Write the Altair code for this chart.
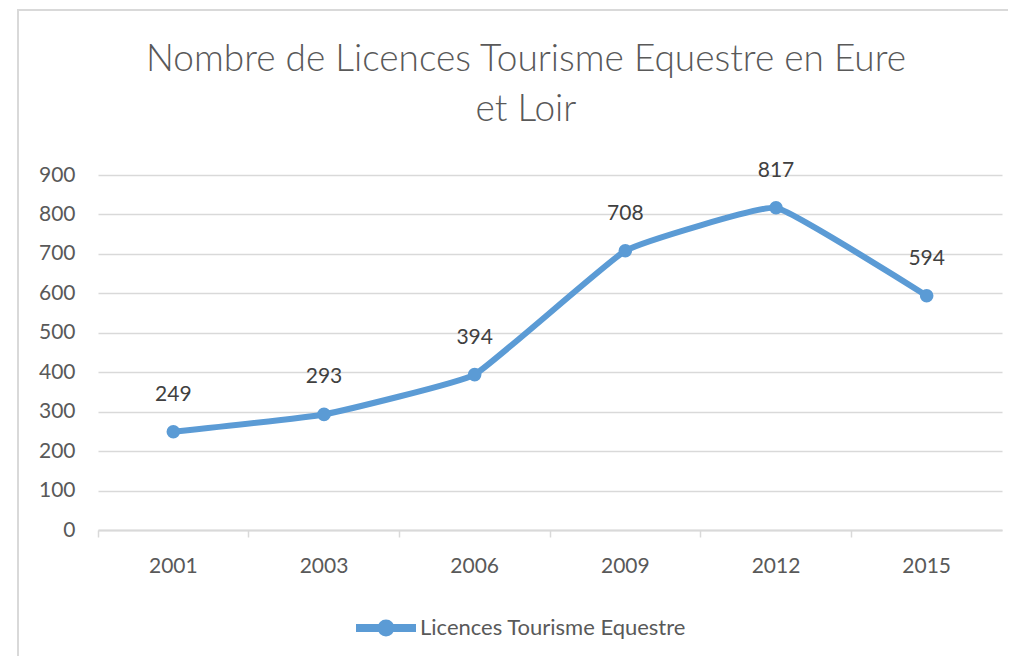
import altair as alt
import pandas as pd

years = ["2001", "2003", "2006", "2009", "2012", "2015"]
values = [249, 293, 394, 708, 817, 594]
series_name = "Licences Tourisme Equestre"
title_lines = ["Nombre de Licences Tourisme Equestre en Eure", "et Loir"]
y_ticks = [0, 100, 200, 300, 400, 500, 600, 700, 800, 900]

df = pd.DataFrame({"year": years, "value": values, "series": series_name})

FONT = "Lato"
TEXT = "#595959"
BLUE = "#5B9BD5"
GRID = "#d9d9d9"

x_enc = alt.X(
    "year:N",
    sort=years,
    bandPosition=0.5,
    scale=alt.Scale(type="band", paddingInner=0, paddingOuter=0),
    axis=alt.Axis(
        title=None, labelAngle=0, bandPosition=0, domainColor=GRID, domainWidth=2,
        tickColor=GRID, tickWidth=1.5, tickSize=7, labelPadding=18,
        labelFont=FONT, labelFontSize=21, labelColor=TEXT, grid=False,
    ),
)
y_enc = alt.Y(
    "value:Q",
    scale=alt.Scale(domain=[0, 900], nice=False),
    axis=alt.Axis(
        title=None, values=y_ticks, domain=False, ticks=False, labelPadding=23,
        labelFont=FONT, labelFontSize=21, labelColor=TEXT,
        grid=True, gridColor=GRID, gridWidth=1.5,
    ),
)

legend_symbol = "M-1,0H1M-0.15,0A0.15,0.15 0 1,0 0.15,0A0.15,0.15 0 1,0 -0.15,0Z"

color_enc = alt.Color(
    "series:N",
    scale=alt.Scale(domain=[series_name], range=[BLUE]),
    legend=alt.Legend(
        title=None, orient="none", legendX=254, legendY=419,
        symbolType=legend_symbol, symbolSize=3600, symbolStrokeWidth=8,
        symbolStrokeColor=BLUE, symbolFillColor=BLUE,
        labelFont=FONT, labelFontSize=22, labelColor=TEXT, labelOffset=0,
        labelLimit=500,
    ),
)

base = alt.Chart(df)

line = base.mark_line(strokeWidth=6, interpolate="cardinal", tension=0.7, strokeCap="round").encode(
    x=x_enc, y=y_enc, color=color_enc
)
points = base.mark_point(filled=True, size=185, opacity=1, shape="circle").encode(
    x=x_enc, y=y_enc,
    color=alt.Color("series:N", scale=alt.Scale(domain=[series_name], range=[BLUE]), legend=None),
)
labels = base.mark_text(dy=-37, font=FONT, fontSize=21, color="#404040").encode(
    x=x_enc, y=y_enc, text="value:Q"
)

frame = alt.Chart(alt.Data(values=[{"b": 1}]))
border_top = frame.mark_rect(color=GRID, strokeWidth=0).encode(
    x=alt.value(-81), x2=alt.value(1000), y=alt.value(-166), y2=alt.value(-164)
)
border_left = frame.mark_rect(color=GRID, strokeWidth=0).encode(
    x=alt.value(-81), x2=alt.value(-79), y=alt.value(-166), y2=alt.value(520)
)

chart = alt.layer(border_top, border_left, line, points, labels).properties(
    width=904,
    height=355,
    padding={"left": 90, "top": 167, "right": 6, "bottom": 126},
    autosize=alt.AutoSizeParams(type="none"),
    title=alt.TitleParams(
        text=title_lines, font=FONT, fontSize=37, fontWeight=300, color=TEXT,
        lineHeight=50, anchor="middle", dx=-24, offset=-120,
    ),
).configure_view(stroke=None)

chart.save("out.html", embed_options={"renderer": "svg", "actions": False})
